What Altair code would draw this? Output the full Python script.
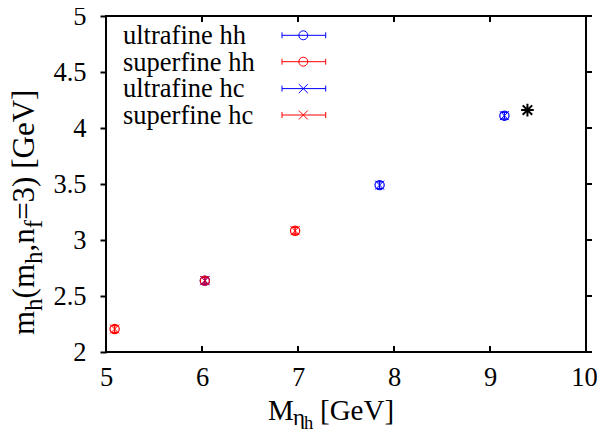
import altair as alt
import pandas as pd

FONT = "Liberation Serif"

# ---- data ----
series_names = ["ultrafine hh", "superfine hh", "ultrafine hc", "superfine hc"]
series_colors = ["#0000ff", "#ff0000", "#0000ff", "#ff0000"]

uf_M = [6.03, 7.85, 9.15]
uf_hh = [2.637, 3.49, 4.11]
uf_hc = [2.637, 3.49, 4.11]
uf_err = [0.03, 0.03, 0.03]

sf_M = [5.09, 6.03, 6.97]
sf_hh = [2.205, 2.637, 3.083]
sf_hc = [2.205, 2.637, 3.083]
sf_err = [0.03, 0.03, 0.03]

exp_M = [9.39]
exp_m = [4.16]

x_ticks = [5, 6, 7, 8, 9, 10]
y_ticks = [2, 2.5, 3, 3.5, 4, 4.5, 5]

W, H = 480, 336

rows = []
for M, v, e in zip(uf_M, uf_hh, uf_err):
    rows.append(dict(series="ultrafine hh", kind="hh", M=M, m=v, lo=v - e, hi=v + e))
for M, v, e in zip(sf_M, sf_hh, sf_err):
    rows.append(dict(series="superfine hh", kind="hh", M=M, m=v, lo=v - e, hi=v + e))
for M, v, e in zip(uf_M, uf_hc, uf_err):
    rows.append(dict(series="ultrafine hc", kind="hc", M=M, m=v, lo=v - e, hi=v + e))
for M, v, e in zip(sf_M, sf_hc, sf_err):
    rows.append(dict(series="superfine hc", kind="hc", M=M, m=v, lo=v - e, hi=v + e))
df = pd.DataFrame(rows)
exp_df = pd.DataFrame({"M": exp_M, "m": exp_m})

xs = alt.Scale(domain=[5, 10], nice=False, zero=False)
ys = alt.Scale(domain=[2, 5], nice=False, zero=False)
cscale = alt.Scale(domain=series_names, range=series_colors)

XAX = alt.Axis(values=x_ticks, tickSize=0, domain=False, grid=False,
               labelFont=FONT, labelFontSize=26.5, labelColor="black",
               labelPadding=12, labelFlush=False, title=None,
               labelOffset={"condition": {"test": "datum.value == 10", "value": -2}, "value": 0})
YAX = alt.Axis(values=y_ticks, format="~g", tickSize=6, tickWidth=2,
               tickColor="black", domain=False, grid=False,
               labelFont=FONT, labelFontSize=26.5, labelColor="black",
               labelPadding=14, title=None)


def X(f):
    return alt.X(f, scale=xs, axis=XAX)


def Y(f):
    return alt.Y(f, scale=ys, axis=YAX)


X_SHAPE = "M-1,-1L1,1M-1,1L1,-1"
CAP = "M-1,0L1,0"
STAR = "M-1,0L1,0M0,-1L0,1M-0.75,-0.75L0.75,0.75M-0.75,0.75L0.75,-0.75"

base = alt.Chart(df)
col = alt.Color("series:N", scale=cscale, legend=None)

err_rule = base.mark_rule(strokeWidth=1).encode(x=X("M:Q"), y=Y("lo:Q"), y2="hi:Q", color=col)
cap_lo = base.mark_point(shape=CAP, size=49, filled=False, strokeWidth=1, opacity=1).encode(
    x=X("M:Q"), y=Y("lo:Q"), color=col)
cap_hi = base.mark_point(shape=CAP, size=49, filled=False, strokeWidth=1, opacity=1).encode(
    x=X("M:Q"), y=Y("hi:Q"), color=col)
circles = base.transform_filter(alt.datum.kind == "hh").mark_point(
    shape="circle", size=85, filled=False, strokeWidth=1.2, opacity=1).encode(
    x=X("M:Q"), y=Y("m:Q"), color=col)
crosses = base.transform_filter(alt.datum.kind == "hc").mark_point(
    shape=X_SHAPE, size=81, filled=False, strokeWidth=1, opacity=1).encode(
    x=X("M:Q"), y=Y("m:Q"), color=col)
star = alt.Chart(exp_df).mark_point(shape=STAR, size=160, filled=False, strokeWidth=2,
                                    color="black", opacity=1).encode(x=X("M:Q"), y=Y("m:Q"))

# inward x ticks (bottom/top) and outward mirror ticks on the right
xt = pd.DataFrame({"M": x_ticks})
yt = pd.DataFrame({"m": y_ticks})
xtick_bot = alt.Chart(xt).mark_rule(strokeWidth=2, color="black").encode(
    x=X("M:Q"), y=alt.value(H), y2=alt.value(H - 6))
xtick_top = alt.Chart(xt).mark_rule(strokeWidth=2, color="black").encode(
    x=X("M:Q"), y=alt.value(0), y2=alt.value(6))
ytick_right = alt.Chart(yt).mark_rule(strokeWidth=2, color="black").encode(
    y=Y("m:Q"), x=alt.value(W), x2=alt.value(W + 6))


def txt(s, x, y, size, angle=0, color="black"):
    return alt.Chart(pd.DataFrame({"t": [s]})).mark_text(
        align="left", baseline="alphabetic", font=FONT, fontSize=size,
        angle=angle, color=color).encode(text="t:N", x=alt.value(x), y=alt.value(y))


def seg(x1, y1, x2, y2, color, width=1):
    return alt.Chart(pd.DataFrame({"a": [0]})).mark_rule(color=color, strokeWidth=width).encode(
        x=alt.value(x1), x2=alt.value(x2), y=alt.value(y1), y2=alt.value(y2))


def sym(shape, x, y, size, color):
    return alt.Chart(pd.DataFrame({"a": [0]})).mark_point(
        shape=shape, size=size, filled=False, strokeWidth=1, color=color, opacity=1).encode(
        x=alt.value(x), y=alt.value(y))


# legend (gnuplot style: text left, sample right)
legend_layers = []
leg_text_y = [28.3, 55.0, 81.3, 107.5]
leg_sym_y = [19.3, 45.7, 72.6, 99.0]
for name, c, ty, sy in zip(series_names, series_colors, leg_text_y, leg_sym_y):
    legend_layers.append(txt(name, 17, ty, 26.5))
    legend_layers.append(seg(176, sy, 219.7, sy, c))
    legend_layers.append(seg(176, sy - 3, 176, sy + 3, c))
    legend_layers.append(seg(219.7, sy - 3, 219.7, sy + 3, c))
    shape = "circle" if name.endswith("hh") else X_SHAPE
    legend_layers.append(sym(shape, 197.3, sy, 80, c))

# axis titles with sub-scripts
F, S, SS = 29, 23, 18.5
x0, xb = 162, 404
xtitle = [
    txt("M", x0, xb, F),
    txt("η", x0 + 25, xb + 5, S),
    txt("h", x0 + 36, xb + 9, SS),
    txt("[GeV]", x0 + 52, xb, F),
]
FY, SY = 31, 25
yx, y0 = -72, 319
sh = 8
ytitle = [
    txt("m", yx, y0, FY, 270),
    txt("h", yx + sh, y0 - 0.778 * FY, SY, 270),
    txt("(m", yx, y0 - 0.778 * FY - 0.5 * SY, FY, 270),
    txt("h", yx + sh, y0 - 1.889 * FY - 0.5 * SY, SY, 270),
    txt(",n", yx, y0 - 1.889 * FY - 1.0 * SY, FY, 270),
    txt("f", yx + sh, y0 - 2.639 * FY - 1.0 * SY, SY, 270),
    txt("=3) [GeV]", yx, y0 - 2.639 * FY - 1.333 * SY, FY, 270),
]

layers = [xtick_bot, xtick_top, ytick_right, err_rule, cap_lo, cap_hi,
          circles, crosses, star] + legend_layers + xtitle + ytitle

chart = alt.layer(*layers).properties(
    width=W, height=H,
    autosize=alt.AutoSizeParams(type="none"),
    padding={"left": 98, "top": 8, "right": 11, "bottom": 77},
    background="white",
).configure_view(stroke="black", strokeWidth=2)

chart.save("out.html", embed_options={"renderer": "svg", "actions": False})
